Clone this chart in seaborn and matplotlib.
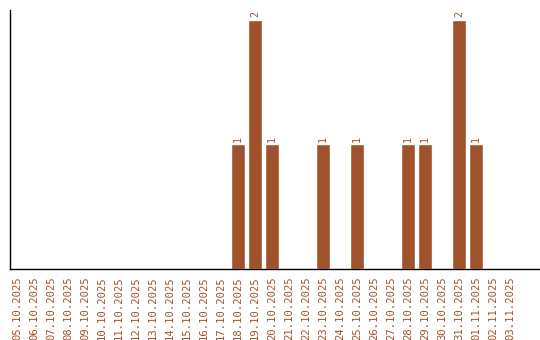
import matplotlib
matplotlib.use("Agg")
import matplotlib.pyplot as plt
import seaborn as sns
import pandas as pd

dates = ["05.10.2025", "06.10.2025", "07.10.2025", "08.10.2025", "09.10.2025",
         "10.10.2025", "11.10.2025", "12.10.2025", "13.10.2025", "14.10.2025",
         "15.10.2025", "16.10.2025", "17.10.2025", "18.10.2025", "19.10.2025",
         "20.10.2025", "21.10.2025", "22.10.2025", "23.10.2025", "24.10.2025",
         "25.10.2025", "26.10.2025", "27.10.2025", "28.10.2025", "29.10.2025",
         "30.10.2025", "31.10.2025", "01.11.2025", "02.11.2025", "03.11.2025"]
counts = [0, 0, 0, 0, 0, 0, 0, 0, 0, 0, 0, 0, 0, 1, 2,
          1, 0, 0, 1, 0, 1, 0, 0, 1, 1, 0, 2, 1, 0, 0]

color = "#A0522D"
sns.set_style("white")
plt.rcParams['font.family'] = ['DejaVu Sans Mono', 'DejaVu Sans']

df = pd.DataFrame({"date": dates, "count": counts})

fig = plt.figure(figsize=(5.4, 3.4), dpi=100)
ax = fig.add_axes([10/540, 71/340, 530/540, 259/340])
sns.barplot(data=df, x="date", y="count", color=color, saturation=1,
            width=0.82, ax=ax, order=dates)

for p, v in zip(ax.patches, counts):
    if v > 0:
        ax.text(p.get_x() + p.get_width()/2, p.get_height() + 0.02, str(v),
                rotation=90, ha="center", va="bottom", fontsize=7.2, color=color)

ax.set_xlim(-0.41, 30.76)
ax.set_ylim(0, 2.08)
ax.set_xlabel("")
ax.set_ylabel("")
ax.set_yticks([])
ax.tick_params(axis="x", length=0, pad=5, labelsize=7.6, labelcolor=color, rotation=90)
for lab in ax.get_xticklabels():
    lab.set_va("top")
sns.despine(ax=ax, top=True, right=True)
for s in ["left", "bottom"]:
    ax.spines[s].set_color("black")
    ax.spines[s].set_linewidth(1)

fig.savefig("out.png", dpi=100)
